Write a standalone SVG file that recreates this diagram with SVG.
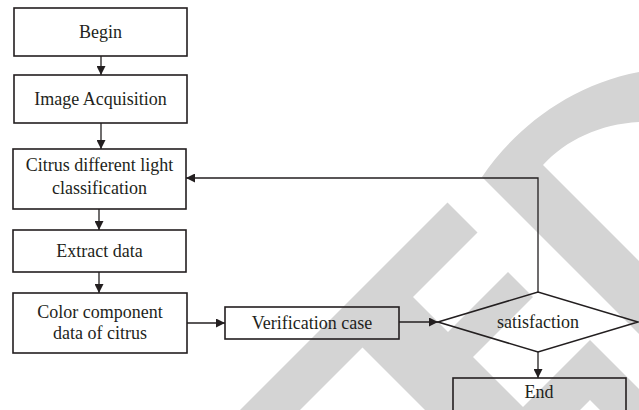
<svg xmlns="http://www.w3.org/2000/svg" width="639" height="410" viewBox="0 0 639 410">
<defs>
<style>
.box{fill:none;stroke:#231f20;stroke-width:1.6}
.lbl{font-family:"Liberation Serif","DejaVu Serif","Times New Roman",serif;font-size:18px;fill:#231f20;text-anchor:middle}
.con{fill:none;stroke:#231f20;stroke-width:1.3}
.wm{fill:#d4d4d4;stroke:none}
</style>
<marker id="ah" viewBox="0 0 10 10" refX="10" refY="5" markerWidth="9" markerHeight="9" markerUnits="userSpaceOnUse" orient="auto">
<path d="M0,0 L10,5 L0,10 Z" fill="#231f20"/>
</marker>
</defs>
<rect width="639" height="410" fill="#ffffff"/>
<g id="watermark">
<path class="wm" d="M482,177 C515,128 570,85 639,72 L639,122 C600,124 566,140 543,165 L639,261 L639,334 Z"/>
<path class="wm" d="M240,410 L447.5,202.5 L477.5,232.5 L413,297 L448,332 L508,272 L533,297 L473,357 L526,410 L425,410 L362.5,347.5 L300,410 Z"/>
<path class="wm" d="M590,340 L660,410 L600,410 L590,400 L580,410 L520,410 Z"/>
</g>
<g id="connectors">
<line class="con" x1="101" y1="56" x2="101" y2="75" marker-end="url(#ah)"/>
<line class="con" x1="101" y1="123" x2="101" y2="149" marker-end="url(#ah)"/>
<line class="con" x1="99" y1="209" x2="99" y2="230" marker-end="url(#ah)"/>
<line class="con" x1="99" y1="272" x2="99" y2="293" marker-end="url(#ah)"/>
<line class="con" x1="187" y1="323" x2="225" y2="323" marker-end="url(#ah)"/>
<line class="con" x1="399" y1="322" x2="438" y2="322" marker-end="url(#ah)"/>
<polyline class="con" points="538,292 538,178 186,178" marker-end="url(#ah)"/>
<line class="con" x1="538" y1="352" x2="538" y2="378" marker-end="url(#ah)"/>
</g>
<g id="begin">
<rect class="box" x="14" y="8" width="173" height="48"/>
<text class="lbl" x="100.5" y="38">Begin</text>
</g>
<g id="acquisition">
<rect class="box" x="14" y="75" width="173" height="48"/>
<text class="lbl" x="100.5" y="105">Image Acquisition</text>
</g>
<g id="classification">
<rect class="box" x="13" y="149" width="173" height="60"/>
<text class="lbl" x="99.5" y="171">Citrus different light</text>
<text class="lbl" x="99.5" y="194">classification</text>
</g>
<g id="extract">
<rect class="box" x="13" y="230" width="173" height="42"/>
<text class="lbl" x="99.5" y="257">Extract data</text>
</g>
<g id="color">
<rect class="box" x="13" y="293" width="174" height="60"/>
<text class="lbl" x="100" y="318">Color component</text>
<text class="lbl" x="100" y="339">data of citrus</text>
</g>
<g id="verification">
<rect class="box" x="225" y="307" width="174" height="32"/>
<text class="lbl" x="312" y="329">Verification case</text>
</g>
<g id="satisfaction">
<polygon class="box" points="438,322 538,292 638,322 538,352"/>
<text class="lbl" x="538" y="328">satisfaction</text>
</g>
<g id="end">
<rect class="box" x="453" y="378" width="173" height="40"/>
<text class="lbl" x="539" y="398">End</text>
</g>
</svg>
